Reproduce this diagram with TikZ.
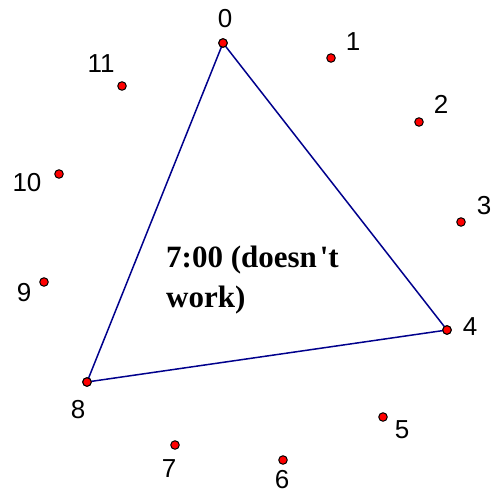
\documentclass[tikz,border=0pt]{standalone}
\usepackage{fontspec}
\setmainfont{Liberation Sans}
\newfontfamily\tnrb{Liberation Serif}[Ligatures=TeXOff]
\begin{document}
\begin{tikzpicture}[x=1pt,y=-1pt,
  pt/.style={circle,fill=red,draw=black,line width=1pt,inner sep=0pt,minimum size=8.5pt},
  lab/.style={font=\fontsize{26}{26}\selectfont,inner sep=0pt,anchor=center},
  tri/.style={draw={rgb,255:red,0;green,0;blue,140},line width=1.5pt},
  note/.style={font=\tnrb\bfseries\fontsize{31}{31}\selectfont,inner sep=0pt,anchor=base west}]
\useasboundingbox (0,0) rectangle (491,494);
\node[pt] (p0) at (223,43) {};
\node[pt] (p1) at (331,58) {};
\node[pt] (p2) at (419,122) {};
\node[pt] (p3) at (461,222) {};
\node[pt] (p4) at (447,330) {};
\node[pt] (p5) at (383,417) {};
\node[pt] (p6) at (283,460) {};
\node[pt] (p7) at (175,445) {};
\node[pt] (p8) at (87,382) {};
\node[pt] (p9) at (44,282) {};
\node[pt] (p10) at (59,174) {};
\node[pt] (p11) at (122,86) {};
\draw[tri] (p0.center) -- (p4.center) -- (p8.center) -- cycle;
\foreach \n in {p0,p4,p8} \node[pt] at (\n) {};
\node[lab] (l0) at (225,19) {0};
\node[lab] (l1) at (353,42) {1};
\node[lab] (l2) at (441,104) {2};
\node[lab] (l3) at (484,206) {3};
\node[lab] (l4) at (470,327) {4};
\node[lab] (l5) at (402,430) {5};
\node[lab] (l6) at (282,480) {6};
\node[lab] (l7) at (169,469) {7};
\node[lab] (l8) at (78,410) {8};
\node[lab] (l9) at (24,293) {9};
\node[lab] (l10) at (27,183) {10};
\node[lab] (l11) at (101,64) {11};
\node[note] (t1) at (166,267) {7:00 (doesn\kern3pt't};
\node[note] (t2) at (166,307) {work)};
\end{tikzpicture}
\end{document}
